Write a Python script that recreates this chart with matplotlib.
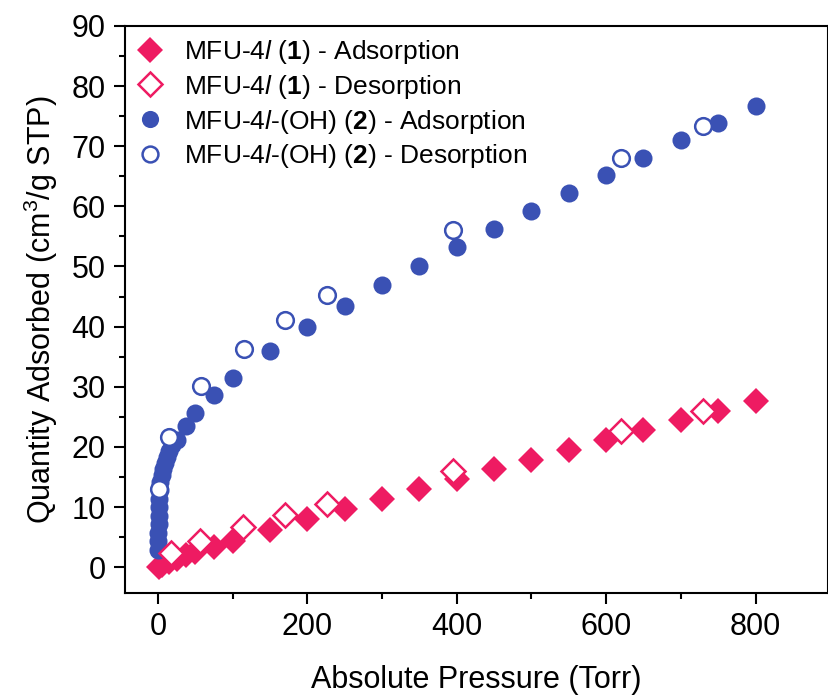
import matplotlib
matplotlib.use("Agg")
import matplotlib.pyplot as plt
from matplotlib.ticker import MultipleLocator

plt.rcParams['font.family'] = ['Liberation Sans', 'DejaVu Sans']
plt.rcParams['mathtext.fontset'] = 'custom'
plt.rcParams['mathtext.rm'] = 'Liberation Sans'
plt.rcParams['mathtext.it'] = 'Liberation Sans:italic'
plt.rcParams['mathtext.bf'] = 'Liberation Sans:bold'

# MFU-4l (1) adsorption
p1_ads = [1, 5, 15, 25, 37, 50, 75, 100, 150, 200, 250, 300, 350, 400, 450, 500,
          550, 600, 650, 700, 750, 800]
q1_ads = [0.0, 0.3, 0.8, 1.3, 2.0, 2.6, 3.4, 4.4, 6.2, 8.0, 9.7, 11.3, 13.0, 14.6,
          16.3, 17.9, 19.5, 21.2, 22.8, 24.5, 26.0, 27.7]
# MFU-4l (1) desorption
p1_des = [730, 620, 395, 227, 170, 114, 57, 18]
q1_des = [25.9, 22.6, 16.0, 10.5, 8.6, 6.7, 4.4, 2.3]
# MFU-4l-(OH) (2) adsorption
p2_ads = [0.3, 0.5, 0.7, 0.9, 1.1, 1.4, 1.8, 2.5, 3.5, 5, 7, 9, 12, 15, 19, 25, 37,
          50, 75, 100, 150, 200, 250, 300, 350, 400, 450, 500, 550, 600, 650, 700,
          750, 800]
q2_ads = [2.8, 4.3, 5.7, 7.1, 8.5, 10.0, 11.4, 12.8, 14.2, 15.3, 16.4, 17.4, 18.4,
          19.3, 20.3, 21.2, 23.5, 25.6, 28.6, 31.5, 35.9, 40.0, 43.5, 46.9, 50.1,
          53.3, 56.3, 59.3, 62.3, 65.2, 68.1, 71.0, 73.9, 76.7]
# MFU-4l-(OH) (2) desorption
p2_des = [730, 620, 395, 227, 170, 115, 58, 15, 1]
q2_des = [73.4, 68.1, 56.1, 45.3, 41.1, 36.3, 30.1, 21.6, 13.0]

labels = [r'MFU-4$\it{l}$ ($\bf{1}$) - Adsorption',
          r'MFU-4$\it{l}$ ($\bf{1}$) - Desorption',
          r'MFU-4$\it{l}$-(OH) ($\bf{2}$) - Adsorption',
          r'MFU-4$\it{l}$-(OH) ($\bf{2}$) - Desorption']

pink = '#ee1b62'
blue = '#3a51b4'

fig = plt.figure(figsize=(8.29, 6.98), dpi=100)
ax = fig.add_axes([0.1508, 0.1504, 0.8480, 0.8124])

ax.plot(p1_ads, q1_ads, 'D', ms=13.5, color=pink, mec=pink, mew=0, label=labels[0], zorder=3)
ax.plot(p1_des, q1_des, 'D', ms=12.5, mfc='white', mec=pink, mew=1.8, label=labels[1], zorder=4)
ax.plot(p2_ads, q2_ads, 'o', ms=13, color=blue, mec=blue, mew=0, label=labels[2], zorder=3)
ax.plot(p2_des, q2_des, 'o', ms=12, mfc='white', mec=blue, mew=1.8, label=labels[3], zorder=4)

ax.set_xlim(-44, 897)
ax.set_ylim(-4.3, 90)
ax.xaxis.set_major_locator(MultipleLocator(200))
ax.xaxis.set_minor_locator(MultipleLocator(100))
ax.yaxis.set_major_locator(MultipleLocator(10))
ax.yaxis.set_minor_locator(MultipleLocator(5))
ax.tick_params(which='major', direction='out', length=8, width=1.5, labelsize=22, pad=6)
ax.tick_params(which='minor', direction='out', length=4, width=1.5)
for s in ax.spines.values():
    s.set_linewidth(1.5)

ax.set_xlabel('Absolute Pressure (Torr)', fontsize=22, labelpad=16)
ax.set_ylabel(r'Quantity Adsorbed (cm$^3$/g STP)', fontsize=22, labelpad=8)

leg = ax.legend(loc='upper left', frameon=False, fontsize=19, markerscale=0.95,
                handletextpad=0.8, labelspacing=0.26, borderaxespad=0.15,
                handlelength=1.0, borderpad=0.3)

fig.savefig('out.png', dpi=100)
